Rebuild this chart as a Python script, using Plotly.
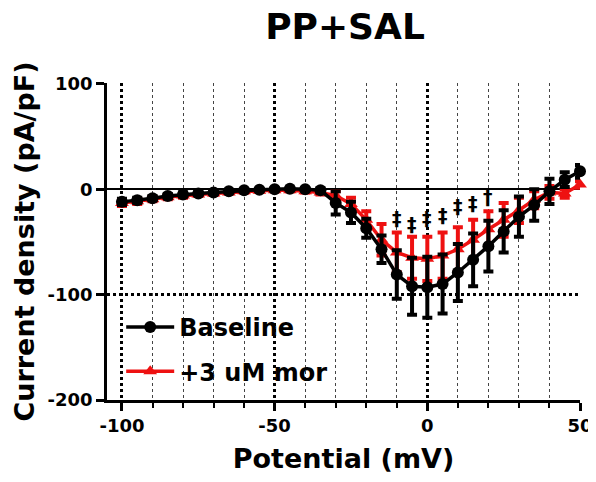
import plotly.graph_objects as go

potential = [-100, -95, -90, -85, -80, -75, -70, -65, -60, -55, -50, -45, -40, -35, -30,
             -25, -20, -15, -10, -5, 0, 5, 10, 15, 20, 25, 30, 35, 40, 45, 50]

baseline_mean = [-12, -10.5, -8.5, -6.5, -5, -4, -3, -2, -1, -0.5, 0, 0.5, 0, -1, -13,
                 -22, -37, -57, -81, -92, -93, -90, -79, -67, -54, -40, -26, -15, -2, 9, 17]
baseline_err = [3, 2.5, 2, 2, 2, 1.5, 1.5, 1, 1, 1, 1, 1, 1, 2, 11,
                10, 9, 13, 23, 27, 29, 28, 27, 25, 24, 20, 19, 15, 12, 7, 6]

mor_mean = [-13, -11.5, -9.5, -7.5, -6, -5, -4, -3, -2, -1.5, -1, -1, -2, -3, -6,
            -14, -29, -48, -60, -65, -66, -63, -57, -48, -38, -29, -20, -10, -3, -4, 4.5]
mor_err = [3, 2.5, 2, 2, 2, 1.5, 1.5, 1, 1, 1, 1, 1, 1, 2, 4,
           6, 8, 15, 19, 20, 21, 22, 21, 19, 17, 16, 12, 8, 6, 4, 3]

sig_x = [-10, -5, 0, 5, 10, 15, 20]
sig_y = [-27, -33, -27, -24, -16, -13, -7]
sig_labels = ["‡", "‡", "‡", "‡", "‡", "‡", "†"]

FONT = "DejaVu Sans"
W, H = 588, 474  # page body adds an 8px offset

fig = go.Figure()

fig.add_trace(go.Scatter(
    x=potential, y=mor_mean, name="+3 uM mor", mode="lines+markers",
    line=dict(color="#ee1111", width=3.5),
    marker=dict(symbol="triangle-up", size=12, color="#ee1111"),
    error_y=dict(type="data", array=mor_err, color="#ee1111", thickness=4, width=5),
    cliponaxis=False, legendgroup="b", legendrank=2,
))
fig.add_trace(go.Scatter(
    x=potential, y=baseline_mean, name="Baseline", mode="lines+markers",
    line=dict(color="black", width=3.5),
    marker=dict(symbol="circle", size=12, color="black"),
    error_y=dict(type="data", array=baseline_err, color="black", thickness=4, width=5),
    cliponaxis=False, legendgroup="a", legendrank=1,
))

for sx, sy, sl in zip(sig_x, sig_y, sig_labels):
    fig.add_annotation(x=sx, y=sy, text=sl, showarrow=False,
                       font=dict(family=FONT, size=19, color="black", weight="bold"))

fig.update_layout(
    width=W, height=H,
    margin=dict(l=99, r=16, t=75, b=82),
    paper_bgcolor="white", plot_bgcolor="white",
    font=dict(family=FONT, color="black", weight="bold"),
    title=dict(text="PP+SAL", x=(345 - 8) / W, xanchor="center", y=1 - 18 / H, yanchor="middle",
               yref="container", automargin=False,
               font=dict(family=FONT, size=36, weight="bold", color="black")),
    showlegend=True,
    legend=dict(x=0.03, y=0.3, xanchor="left", yanchor="top", bgcolor="rgba(0,0,0,0)",
                font=dict(family=FONT, size=24, weight="bold", color="black"),
                traceorder="grouped", tracegroupgap=10, itemwidth=48),
)

fig.update_xaxes(
    range=[-104.9, 50], tickvals=[-100, -50, 0, 50], ticktext=["-100", "-50", "0", "50"],
    automargin=False,
    showline=True, linecolor="black", linewidth=2.5,
    ticks="outside", ticklen=8, tickwidth=2.5, tickcolor="black",
    tickfont=dict(family=FONT, size=18, weight="bold"),
    showgrid=True, gridcolor="black", gridwidth=2.5, griddash="dot",
    zeroline=False,
    minor=dict(dtick=10, tick0=0, ticks="outside", ticklen=5, tickwidth=2, tickcolor="black",
               showgrid=True, gridcolor="#444444", gridwidth=1, griddash="dot"),
    title=dict(text="Potential (mV)", font=dict(family=FONT, size=27, weight="bold"), standoff=14),
)
fig.update_yaxes(
    range=[-200, 100.8], tickvals=[-200, -100, 0, 100], ticktext=["-200", "-100", "0", "100"],
    automargin=False,
    showline=True, linecolor="black", linewidth=2.5,
    ticks="outside", ticklen=8, tickwidth=2.5, tickcolor="black",
    tickfont=dict(family=FONT, size=18, weight="bold"),
    showgrid=True, gridcolor="black", gridwidth=2.5, griddash="dot",
    zeroline=True, zerolinecolor="black", zerolinewidth=1.5,
    title=dict(text="Current density (pA/pF)", font=dict(family=FONT, size=27, weight="bold"), standoff=6),
)

fig.write_html("out.html")
